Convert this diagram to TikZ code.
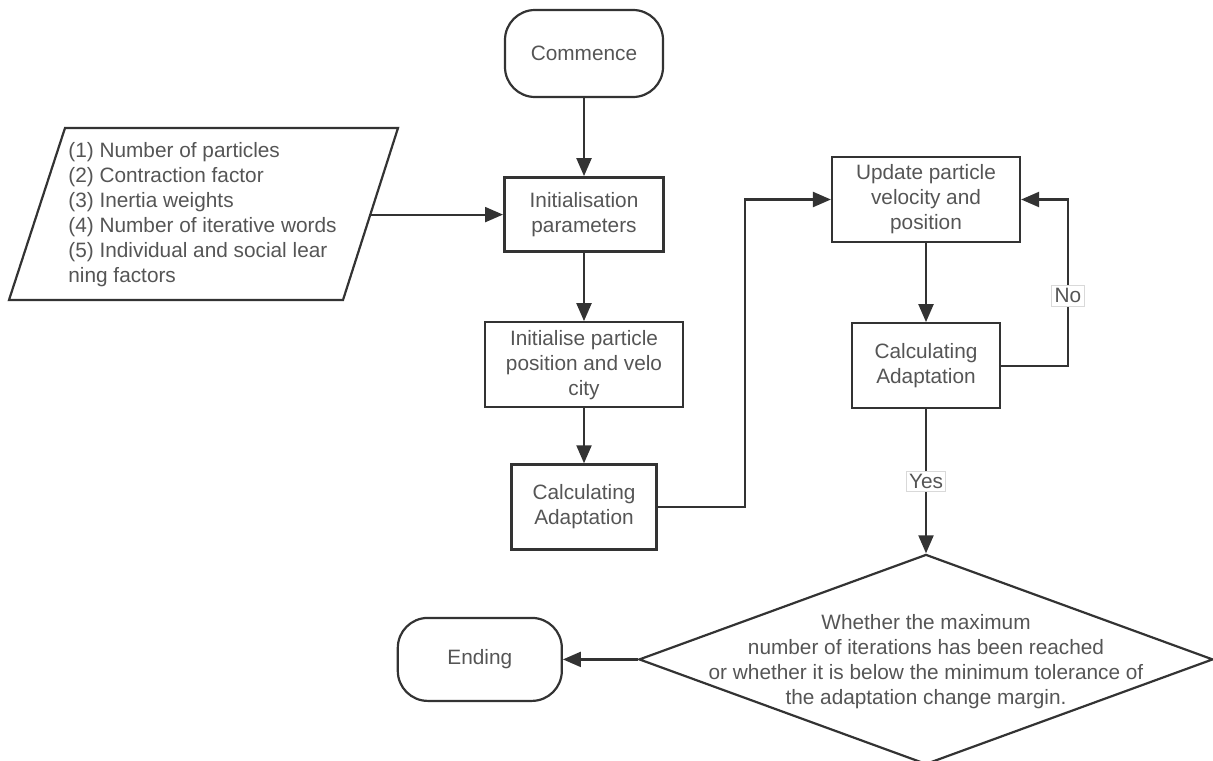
\documentclass[tikz,border=0pt]{standalone}
\usepackage{fontspec}
\setmainfont{Liberation Sans}
\usetikzlibrary{positioning, arrows.meta, shapes.geometric}
\definecolor{linegray}{HTML}{333333}
\definecolor{textgray}{HTML}{555555}

\begin{document}
\begin{tikzpicture}[
    x=0.5pt, y=-0.5pt,
    every node/.style={font=\fontsize{10.4}{12.5}\selectfont, text=textgray},
    box/.style={draw=linegray, line width=1.1pt, rectangle, minimum height=42.5pt, align=center, inner sep=2pt},
    terminal/.style={draw=linegray, line width=1.1pt, rectangle, rounded corners=15pt, align=center},
    decide/.style={draw=linegray, line width=1.1pt, diamond, inner sep=0pt, minimum width=287pt, minimum height=105pt},
    lbl/.style={fill=white, draw=black!15, line width=0.5pt, inner sep=1.5pt},
    arrow/.style={-{Triangle[length=9pt, width=7.5pt]}, line width=1.1pt, draw=linegray}
]
\useasboundingbox (0,0) rectangle (1213,760);

\node[terminal, minimum width=79pt, minimum height=43.5pt] (start) at (584,53.5) {Commence};
\node[box, line width=1.5pt, minimum width=79.5pt, minimum height=37pt, below=39pt of start] (init) {Initialisation\\parameters};
\node[box, minimum width=99pt, below=34pt of init] (initpos) {Initialise particle\\position and velo\\city};
\node[box, minimum width=72.5pt, below=27.5pt of initpos] (fit1) {Calculating\\Adaptation};
\node[box, minimum width=94pt] (update) at (926,199.5) {Update particle\\velocity and\\position};
\node[box, minimum width=74pt, below=39.5pt of update] (fit2) {Calculating\\Adaptation};
\node[decide, below=72pt of fit2] (check) {};
\node[align=center, yshift=-1pt] (checktext) at (check) {Whether the maximum\\number of iterations has been reached\\or whether it is below the minimum tolerance of\\the adaptation change margin.};
\node[terminal, minimum width=82pt, minimum height=41.5pt, left=37.5pt of check] (stop) {Ending};

% input parameters
\draw[draw=linegray, line width=1.1pt] (65,128) -- (398,128) -- (343,300) -- (9,300) -- cycle;
\node[anchor=west, align=left, inner sep=0pt] (settings) at (68,214.5) {(1) Number of particles\\(2) Contraction factor\\(3) Inertia weights\\(4) Number of iterative words\\(5) Individual and social lear\\ning factors};
\coordinate (settingsout) at (369,215);
\coordinate (bend1) at (745,0);
\coordinate (bend2) at (1068,0);

\draw[arrow] (start) -- (init);
\draw[arrow] (init.west -| settingsout) -- (init.west);
\draw[arrow] (init) -- (initpos);
\draw[arrow] (initpos) -- (fit1);
\draw[arrow] (fit1.east) -- (fit1.east -| bend1) -- (update.west -| bend1) -- (update.west);
\draw[arrow] (update) -- (fit2);
\draw[arrow] (fit2.east) -- (fit2.east -| bend2) -- node[lbl, pos=0.42] {No} (update.east -| bend2) -- (update.east);
\draw[arrow] (fit2) -- node[lbl] {Yes} (check);
\draw[arrow] (check.west) -- (stop.east);
\end{tikzpicture}
\end{document}
